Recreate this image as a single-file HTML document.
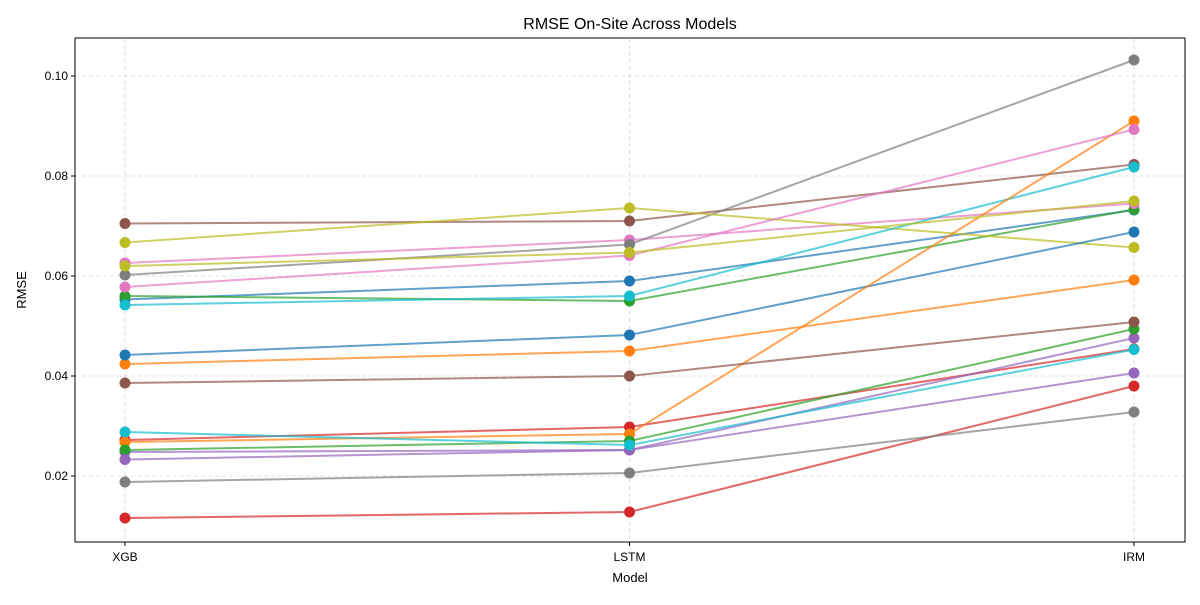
<!DOCTYPE html>
<html><head><meta charset="utf-8"><style>
body{margin:0;background:#fff;font-family:"Liberation Sans","DejaVu Sans",sans-serif}
</style></head><body>
<svg id="chart" width="1200" height="600" xmlns="http://www.w3.org/2000/svg">
<rect width="1200" height="600" fill="#fff"/>
<g id="grid"></g><g id="series"></g><g id="axes"></g>
</svg>
<script>
const categories=["XGB","LSTM","IRM"];
const yTicks=[0.02,0.04,0.06,0.08,0.10];
const colors=["#1f77b4","#ff7f0e","#2ca02c","#d62728","#9467bd","#8c564b","#e377c2","#7f7f7f","#bcbd22","#17becf"];
const s0=[0.0553,0.0590,0.0732];
const s1=[0.0424,0.0450,0.0592];
const s2=[0.0560,0.0550,0.0733];
const s3=[0.0272,0.0298,0.0454];
const s4=[0.0248,0.0252,0.0476];
const s5=[0.0705,0.0710,0.0823];
const s6=[0.0626,0.0672,0.0745];
const s7=[0.0602,0.0663,0.1032];
const s8=[0.0667,0.0736,0.0657];
const s9=[0.0542,0.0560,0.0818];
const s10=[0.0442,0.0482,0.0688];
const s11=[0.0268,0.0284,0.0910];
const s12=[0.0252,0.0270,0.0494];
const s13=[0.0116,0.0128,0.0380];
const s14=[0.0233,0.0252,0.0406];
const s15=[0.0386,0.0400,0.0508];
const s16=[0.0578,0.0641,0.0893];
const s17=[0.0188,0.0206,0.0328];
const s18=[0.0620,0.0647,0.0750];
const s19=[0.0288,0.0262,0.0453];
const seriesList=[s0,s1,s2,s3,s4,s5,s6,s7,s8,s9,s10,s11,s12,s13,s14,s15,s16,s17,s18,s19];
const L=75,R=1185,T=38,B=542;
const xPos=i=>125+i*(1134-125)/(categories.length-1);
const yPos=v=>476-(v-0.02)*5000;
const NS="http://www.w3.org/2000/svg";
function mk(tag,attrs,parent,text){const e=document.createElementNS(NS,tag);for(const k in attrs)e.setAttribute(k,attrs[k]);if(text!==undefined)e.textContent=text;parent.appendChild(e);return e;}
const grid=document.getElementById('grid'),ser=document.getElementById('series'),ax=document.getElementById('axes');
categories.forEach((c,i)=>{
  const g=mk('line',{x1:xPos(i),x2:xPos(i),y1:T,y2:B,stroke:'#b0b0b0','stroke-width':0.8,'stroke-dasharray':'4,3',opacity:0.5},grid);
  
  
  mk('line',{x1:xPos(i),x2:xPos(i),y1:B,y2:B+4,stroke:'#000'},ax);
  const t=mk('text',{x:xPos(i),y:B+19,'text-anchor':'middle','font-size':12},ax,c);
  
  
});
yTicks.forEach(v=>{
  const g=mk('line',{x1:L,x2:R,y1:yPos(v),y2:yPos(v),stroke:'#b0b0b0','stroke-width':0.8,'stroke-dasharray':'4,3',opacity:0.5},grid);
  
  
  mk('line',{x1:L-4,x2:L,y1:yPos(v),y2:yPos(v),stroke:'#000'},ax);
  const t=mk('text',{x:L-7,y:yPos(v)+4,'text-anchor':'end','font-size':12},ax,v.toFixed(2));
  
  
});
seriesList.forEach((s,k)=>{
  const col=colors[k%10];
  const g=mk('g',{},ser);
  
  
  const pts=s.map((v,i)=>xPos(i)+','+yPos(v)).join(' ');
  mk('polyline',{points:pts,fill:'none',stroke:col,'stroke-width':2,opacity:0.7},g);
  s.forEach((v,i)=>{
    const c=mk('circle',{cx:xPos(i),cy:yPos(v),r:5.5,fill:col},g);
    
    
  });
});
const fr=mk('rect',{x:L,y:T,width:R-L,height:B-T,fill:'none',stroke:'#000','stroke-width':1},ax);


const ti=mk('text',{x:630,y:29,'text-anchor':'middle','font-size':16},ax,'RMSE On-Site Across Models');


const xl=mk('text',{x:630,y:582,'text-anchor':'middle','font-size':13},ax,'Model');


const yl=mk('text',{x:26,y:290,'text-anchor':'middle','font-size':13,transform:'rotate(-90 26 290)'},ax,'RMSE');


</script>
</body></html>
